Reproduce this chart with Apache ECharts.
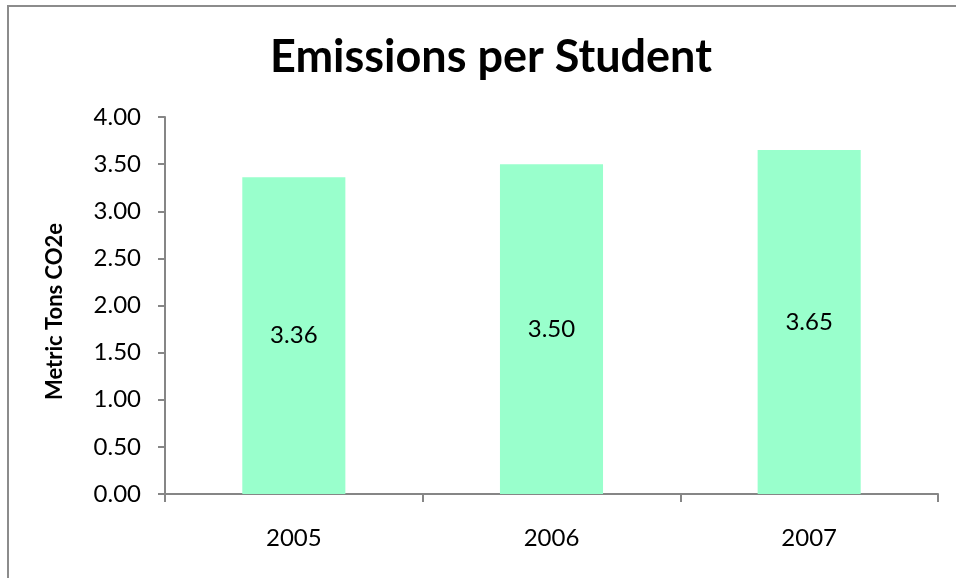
<!DOCTYPE html>
<html>
<head>
<meta charset="utf-8">
<script src="https://cdn.jsdelivr.net/npm/echarts@6/dist/echarts.min.js"></script>
<style>
  html, body { margin: 0; padding: 0; background: #fff; }
  #chart { width: 956px; height: 578px; }
</style>
</head>
<body>
<div id="chart"></div>
<script>
// Emissions per student, by year
const years = ['2005', '2006', '2007'];
const emissions = [3.36, 3.50, 3.65];
const yTicks = { min: 0, max: 4, step: 0.5 };

const chart = echarts.init(document.getElementById('chart'));
const font = 'Lato, "Noto Sans", sans-serif';
const axisGray = '#868686';

chart.setOption({
  backgroundColor: '#ffffff',
  animation: false,
  graphic: [{
    type: 'rect',
    shape: { x: 8, y: 6, width: 1000, height: 1000 },
    style: { fill: 'none', stroke: '#8c8c8c', lineWidth: 2 },
    silent: true
  }],
  title: {
    text: 'Emissions per Student',
    left: 265,
    top: 30,
    textStyle: { fontFamily: font, fontWeight: 'bold', fontSize: 45, color: '#000' }
  },
  grid: { left: 165, right: 18, top: 117, bottom: 84 },
  xAxis: {
    type: 'category',
    data: years,
    boundaryGap: true,
    axisLine: { lineStyle: { color: axisGray, width: 2 } },
    axisTick: { show: true, length: 8, lineStyle: { color: axisGray, width: 2 } },
    axisLabel: { fontFamily: font, fontSize: 24, color: '#000', margin: 32 }
  },
  yAxis: {
    type: 'value',
    min: yTicks.min,
    max: yTicks.max,
    interval: yTicks.step,
    name: 'Metric Tons CO2e',
    nameLocation: 'middle',
    nameGap: 99,
    nameTextStyle: {
      fontFamily: font, fontWeight: 'bold', fontSize: 22, color: '#000',
      padding: [0, 12, 0, 0]
    },
    axisLine: { show: true, lineStyle: { color: axisGray, width: 2 } },
    axisTick: { show: true, length: 7, lineStyle: { color: axisGray, width: 2 } },
    splitLine: { show: false },
    axisLabel: {
      fontFamily: font, fontSize: 24, color: '#000', margin: 24,
      formatter: v => v.toFixed(2)
    }
  },
  series: [{
    type: 'bar',
    data: emissions,
    barWidth: '40%',
    itemStyle: { color: '#99FFCC' },
    label: {
      show: true,
      position: 'inside',
      fontFamily: font,
      fontSize: 24,
      color: '#000',
      formatter: p => p.value.toFixed(2)
    }
  }]
});
</script>
</body>
</html>
